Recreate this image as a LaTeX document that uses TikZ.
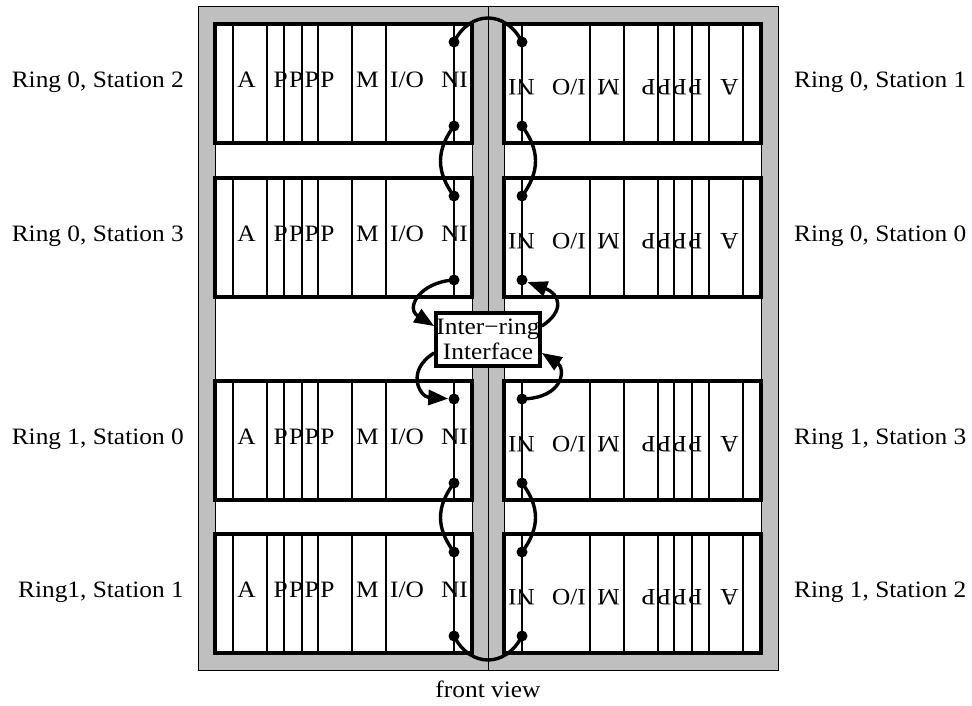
\documentclass[tikz,border=0pt]{standalone}
\usepackage{fontspec}
\setmainfont{Liberation Serif}[FakeStretch=1.08]
\usetikzlibrary{arrows.meta}
\newcommand\stationcontent{%
  \foreach \sx in {233,267,284,302,318,352,386,454}
    \draw[slot] (\sx,0) -- (\sx,119);
  \draw[stbox] (215,0) rectangle (472,119);
  \node[lbl, anchor=base] at (246.5,63.5) {A};
  \node[lbl, anchor=base] at (304,63.5) {P\hspace{1.5pt}P\hspace{1.5pt}P\hspace{1.5pt}P};
  \node[lbl, anchor=base] at (367.5,63.5) {M};
  \node[lbl, anchor=base] at (407,63.5) {I/O};
  \node[lbl, anchor=base] at (454.5,63.5) {NI};
}
\begin{document}
\begin{tikzpicture}[x=1pt,y=-1pt,
  frame/.style={fill=black!25, draw=black, line width=1pt},
  innerw/.style={fill=white, draw=black, line width=1pt},
  stbox/.style={draw=black, line width=3.6pt},
  slot/.style={draw=black, line width=1.6pt},
  lbl/.style={font=\fontsize{23.5}{25}\selectfont, inner sep=0pt},
  dot/.style={circle, fill=black, inner sep=0pt, minimum size=11pt},
  link/.style={line width=3.4pt},
  arr/.style={link, -{Triangle[length=20pt,width=15pt]}}
]
\useasboundingbox (0,0) rectangle (972,706);
% cabinets
\draw[frame] (198,7) rectangle (488,670);
\draw[frame] (488,7) rectangle (778,670);
\draw[innerw] (215,24) rectangle (472,653);
\draw[innerw] (504,24) rectangle (761,653);
% stations
\foreach \t in {24,178,381,534} {
  \begin{scope}[shift={(0,\t)}]
    \stationcontent
  \end{scope}
  \begin{scope}[shift={(0,\t)}, rotate around={180:(488,59.5)}, transform shape]
    \stationcontent
  \end{scope}
}
% station labels
\node[lbl, anchor=base east] (l1) at (184,87.5) {Ring 0, Station 2};
\node[lbl, anchor=base east] (l2) at (184,241.5) {Ring 0, Station 3};
\node[lbl, anchor=base east] (l3) at (184,444.5) {Ring 1, Station 0};
\node[lbl, anchor=base east] (l4) at (184,597.5) {Ring1, Station 1};
\node[lbl, anchor=base west] (r1) at (794,87.5) {Ring 0, Station 1};
\node[lbl, anchor=base west] (r2) at (794,241.5) {Ring 0, Station 0};
\node[lbl, anchor=base west] (r3) at (794,444.5) {Ring 1, Station 3};
\node[lbl, anchor=base west] (r4) at (794,597.5) {Ring 1, Station 2};
\node[lbl, anchor=base] (fv) at (488,697) {front view};
% dots
\foreach \r/\t in {1/24,2/178,3/381,4/534} {
  \node[dot] (L\r-a) at (454,\t+18) {};
  \node[dot] (L\r-b) at (454,\t+102) {};
  \node[dot] (R\r-a) at (522,\t+18) {};
  \node[dot] (R\r-b) at (522,\t+102) {};
}
% inter-ring interface
\node[draw, line width=3.6pt, fill=white, minimum width=104pt, minimum height=53pt,
      inner sep=0pt, align=center, font=\fontsize{23.5}{25}\selectfont] (iri) at (488,339.5)
      {Inter−ring\\Interface};
% links
\draw[link] (L1-a.center) .. controls (470,10) and (506,10) .. (R1-a.center);
\draw[link] (L4-b.center) .. controls (470,668) and (506,668) .. (R4-b.center);
\draw[link] (L1-b.center) .. controls (436,150) and (436,172) .. (L2-a.center);
\draw[link] (R1-b.center) .. controls (540,150) and (540,172) .. (R2-a.center);
\draw[link] (L3-b.center) .. controls (436,507) and (436,528) .. (L4-a.center);
\draw[link] (R3-b.center) .. controls (540,507) and (540,528) .. (R4-a.center);
% arrows through the interface
\draw[arr] (L2-b.center) .. controls (420,282) and (405,308) .. (iri.166);
\draw[arr] (iri.194) .. controls (405,371) and (420,397) .. (L3-a);
\draw[arr] (R3-a.center) .. controls (565,398) and (565,368) .. (iri.-14);
\draw[arr] (iri.14) .. controls (565,311) and (560,294) .. (R2-b);
\end{tikzpicture}
\end{document}
